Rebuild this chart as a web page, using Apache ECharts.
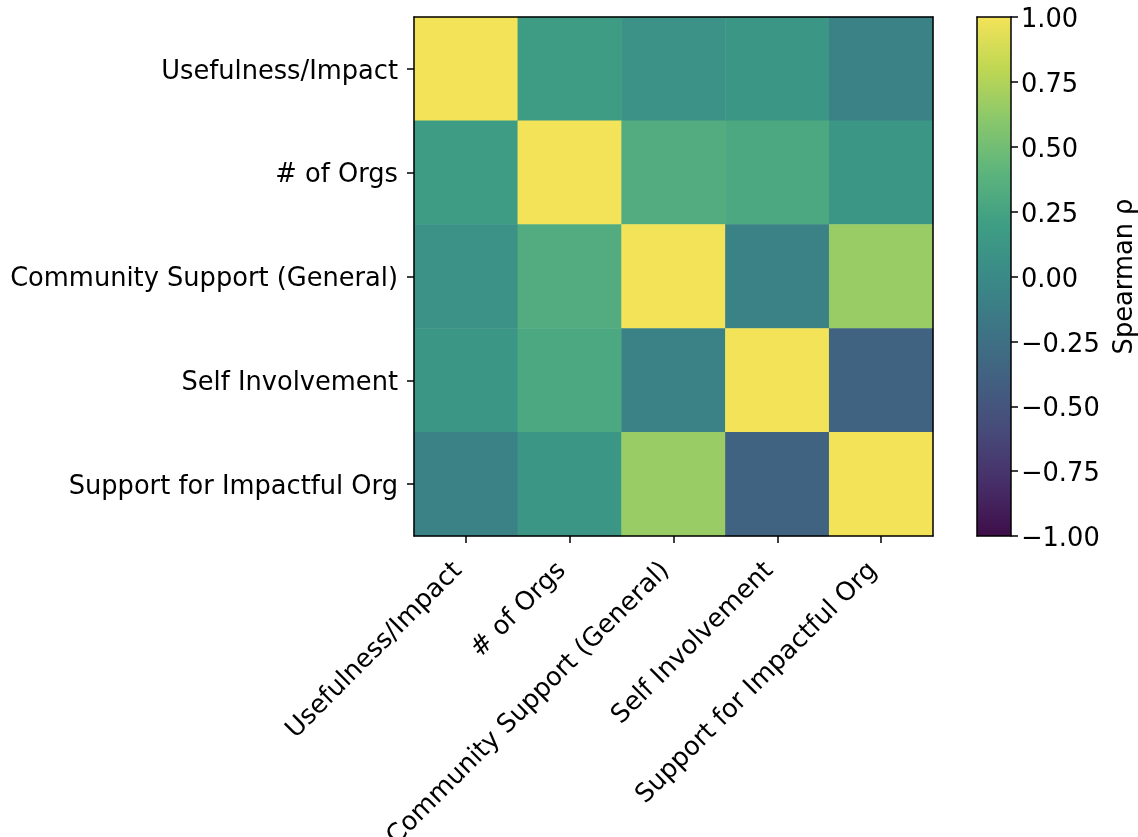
<!DOCTYPE html>
<html>
<head>
<meta charset="utf-8">
<script src="https://cdn.jsdelivr.net/npm/echarts@6/dist/echarts.min.js"></script>
<style>
  html, body { margin: 0; padding: 0; background: #fff; }
  #chart { width: 1138px; height: 837px; }
</style>
</head>
<body>
<div id="chart"></div>
<script>
// Variables in the correlation matrix (row/column order)
const variables = [
  'Usefulness/Impact',
  '# of Orgs',
  'Community Support (General)',
  'Self Involvement',
  'Support for Impactful Org'
];

// Spearman correlation rows
const rowUsefulness = [1.00, 0.18, 0.08, 0.12, -0.08];
const rowOrgs       = [0.18, 1.00, 0.33, 0.29, 0.12];
const rowCommunity  = [0.08, 0.33, 1.00, -0.08, 0.66];
const rowSelf       = [0.12, 0.29, -0.08, 1.00, -0.37];
const rowSupport    = [-0.08, 0.12, 0.66, -0.37, 1.00];
const matrixRows = [rowUsefulness, rowOrgs, rowCommunity, rowSelf, rowSupport];

// Colour scale range and colorbar ticks
const scaleRange = [-1, 1];
const colorbarTicks = [-1.00, -0.75, -0.50, -0.25, 0.00, 0.25, 0.50, 0.75, 1.00];

// Viridis stops, muted a little
const viridis = ['#440154', '#482475', '#414487', '#355f8d', '#2a788e',
                 '#21918c', '#22a884', '#44bf70', '#7ad151', '#bddf26', '#fde725'];
function soften(hex) {
  const r = parseInt(hex.slice(1, 3), 16), g = parseInt(hex.slice(3, 5), 16), b = parseInt(hex.slice(5, 7), 16);
  const L = 0.299 * r + 0.587 * g + 0.114 * b;
  const k = 0.27, w = 0.02;
  const f = c => Math.round(Math.min(255, (c * (1 - k) + L * k) * (1 - w) + 255 * w));
  return 'rgb(' + f(r) + ',' + f(g) + ',' + f(b) + ')';
}
const palette = viridis.map(soften);

const heatData = [];
matrixRows.forEach((row, yi) => row.forEach((v, xi) => heatData.push([xi, yi, v])));

const FONT = 'DejaVu Sans';
const FS = 25.7;
const fmtTick = v => '{t|' + (v < 0 ? '\u2212' : '') + Math.abs(v).toFixed(2) + '}';
const wrapY = v => '{t|' + v + '}';
const wrapX = v => '{t|' + v + '}';
const textBase = { fontFamily: FONT, fontSize: FS, color: '#000' };
const frameLine = { show: true, onZero: false, lineStyle: { color: '#000', width: 1.5 } };
const tickStyle = { color: '#000', width: 1.5 };

const chart = echarts.init(document.getElementById('chart'), null, { renderer: 'canvas' });
chart.setOption({
  animation: false,
  backgroundColor: '#fff',
  grid: [
    { left: 414, top: 17, width: 519, height: 519, outerBoundsMode: 'none', containLabel: false },
    { left: 977, top: 17, width: 34, height: 519, outerBoundsMode: 'none', containLabel: false }
  ],
  xAxis: [
    {
      gridIndex: 0, type: 'category', data: variables, position: 'bottom', z: 5,
      axisLine: frameLine,
      axisTick: { show: true, alignWithLabel: true, length: 7, lineStyle: tickStyle },
      axisLabel: Object.assign({ rotate: 45, margin: 23, interval: 0, formatter: wrapX,
                   rich: { t: Object.assign({ padding: [0, 11, 0, 0] }, textBase) } }, textBase),
      splitLine: { show: false }
    },
    {
      gridIndex: 0, type: 'category', data: variables, position: 'top', z: 5,
      axisLine: frameLine, axisTick: { show: false }, axisLabel: { show: false }
    },
    {
      gridIndex: 1, type: 'value', min: 0, max: 1, position: 'bottom', z: 5,
      axisLine: frameLine, axisTick: { show: false }, axisLabel: { show: false }, splitLine: { show: false }
    },
    {
      gridIndex: 1, type: 'value', min: 0, max: 1, position: 'top', z: 5,
      axisLine: frameLine, axisTick: { show: false }, axisLabel: { show: false }, splitLine: { show: false }
    }
  ],
  yAxis: [
    {
      gridIndex: 0, type: 'category', data: variables, inverse: true, position: 'left', z: 5,
      axisLine: frameLine,
      axisTick: { show: true, alignWithLabel: true, length: 7, lineStyle: tickStyle },
      axisLabel: Object.assign({ margin: 16, interval: 0, formatter: wrapY,
                   rich: { t: Object.assign({ padding: [6, 0, 0, 0] }, textBase) } }, textBase),
      splitLine: { show: false }
    },
    {
      gridIndex: 0, type: 'category', data: variables, inverse: true, position: 'right', z: 5,
      axisLine: frameLine, axisTick: { show: false }, axisLabel: { show: false }
    },
    {
      gridIndex: 1, type: 'value', min: scaleRange[0], max: scaleRange[1], interval: 0.25,
      position: 'right', z: 5,
      name: 'Spearman \u03c1', nameLocation: 'middle', nameRotate: 90, nameGap: 101,
      nameTextStyle: textBase,
      axisLine: frameLine,
      axisTick: { show: true, length: 7, lineStyle: tickStyle, customValues: colorbarTicks },
      axisLabel: Object.assign({ margin: 10, formatter: fmtTick, customValues: colorbarTicks,
                   rich: { t: Object.assign({ padding: [7, 0, 0, 0] }, textBase) } }, textBase),
      splitLine: { show: false }
    },
    {
      gridIndex: 1, type: 'value', min: scaleRange[0], max: scaleRange[1], position: 'left', z: 5,
      axisLine: frameLine, axisTick: { show: false }, axisLabel: { show: false }, splitLine: { show: false }
    }
  ],
  visualMap: {
    show: false, type: 'continuous', seriesIndex: 0,
    min: scaleRange[0], max: scaleRange[1], dimension: 2,
    inRange: { color: palette }
  },
  series: [
    {
      type: 'heatmap', xAxisIndex: 0, yAxisIndex: 0, data: heatData,
      itemStyle: { borderWidth: 0 },
      emphasis: { disabled: true }
    },
    {
      // colorbar strip spanning the full scale range
      type: 'custom', xAxisIndex: 2, yAxisIndex: 2,
      data: [[0, scaleRange[0], 1, scaleRange[1]]],
      renderItem: function (params, api) {
        const p0 = api.coord([api.value(0), api.value(1)]);
        const p1 = api.coord([api.value(2), api.value(3)]);
        const stops = palette.map((c, i) => ({ offset: i / (palette.length - 1), color: c }));
        return {
          type: 'rect',
          shape: { x: p0[0], y: p1[1], width: p1[0] - p0[0], height: p0[1] - p1[1] },
          style: { fill: new echarts.graphic.LinearGradient(0, 1, 0, 0, stops) }
        };
      },
      silent: true
    }
  ]
});
</script>
</body>
</html>
